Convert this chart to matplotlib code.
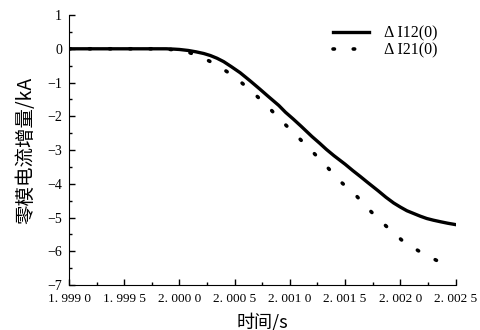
import matplotlib
matplotlib.use("Agg")
import matplotlib.pyplot as plt
from matplotlib.ticker import MultipleLocator, FixedLocator

# values
t_i12 = [1.9990, 1.9995, 1.99975, 1.99988, 1.99995, 2.0000, 2.00008, 2.00015,
         2.00022, 2.00028, 2.00034, 2.0004, 2.00047, 2.00055, 2.00064, 2.00073,
         2.0008, 2.0009, 2.00096, 2.00103, 2.0011, 2.0012, 2.00127, 2.00133,
         2.0014, 2.0015, 2.00157, 2.00164, 2.0017, 2.0018, 2.00187, 2.00194,
         2.002, 2.00206, 2.00212, 2.00218, 2.00224, 2.0023, 2.00237, 2.00243,
         2.0025]
i12 = [0.0, 0.0, 0.0, 0.0, -0.01, -0.02, -0.05, -0.09,
       -0.14, -0.20, -0.28, -0.38, -0.53, -0.71, -0.95, -1.20,
       -1.40, -1.68, -1.88, -2.08, -2.29, -2.60, -2.80, -2.98,
       -3.17, -3.42, -3.61, -3.79, -3.95, -4.21, -4.40, -4.57,
       -4.69, -4.80, -4.88, -4.96, -5.03, -5.08, -5.13, -5.17,
       -5.21]

t_i21 = [1.9990, 1.9995, 1.99975, 1.99988, 2.0000, 2.00008, 2.00017, 2.00025,
         2.00034, 2.0005, 2.00064, 2.00078, 2.00091, 2.00105, 2.00119, 2.00132,
         2.00145, 2.0016, 2.00173, 2.00187, 2.00202, 2.00219, 2.00237]
i21 = [0.0, 0.0, 0.0, -0.01, -0.04, -0.10, -0.21, -0.33,
       -0.48, -0.83, -1.22, -1.64, -2.09, -2.54, -3.00, -3.44,
       -3.91, -4.35, -4.81, -5.25, -5.69, -6.04, -6.34]

xticks = [1.9990, 1.9995, 2.0000, 2.0005, 2.0010, 2.0015, 2.0020, 2.0025]
serif = ["Liberation Serif", "DejaVu Serif"]
cjk = ["Noto Sans CJK SC", "DejaVu Sans"]


def fmt_tick(v):
    s = f"{v:.4f}"
    return s[:2] + " " + s[2:5] + " " + s[5:]


fig = plt.figure(figsize=(4.81, 3.30), dpi=100)
ax = fig.add_axes([0.1435, 0.1364, 0.8035, 0.818])

ax.plot(t_i12, i12, color="black", lw=2.4, label="Δ I12(0)")
ax.plot(t_i21, i21, color="black", lw=2.6, linestyle=(0, (0.4, 5.2)),
        dash_capstyle="round", label="Δ I21(0)")

ax.set_xlim(1.9990, 2.0025)
ax.set_ylim(-7, 1)
ax.xaxis.set_major_locator(FixedLocator(xticks))
ax.set_xticklabels([fmt_tick(v) for v in xticks], family=serif, fontsize=9.5)
ax.xaxis.set_minor_locator(MultipleLocator(0.00025))
ax.yaxis.set_major_locator(MultipleLocator(1))
ax.yaxis.set_minor_locator(MultipleLocator(0.5))
for lab in ax.get_yticklabels():
    lab.set_family(serif)
    lab.set_fontsize(10)

ax.spines["top"].set_visible(False)
ax.spines["right"].set_visible(False)
ax.tick_params(which="both", direction="in", width=1)
ax.tick_params(which="major", length=4)
ax.tick_params(axis="x", which="major", pad=6)
ax.tick_params(axis="y", which="major", pad=5)
ax.tick_params(which="minor", length=2.5)

ax.set_xlabel("时间/s", family=cjk, fontsize=13, labelpad=5)
ax.set_ylabel("零模电流增量/kA", family=cjk, fontsize=14, labelpad=8)

leg = ax.legend(loc="upper right", bbox_to_anchor=(0.99, 1.015), frameon=False,
                prop={"family": serif, "size": 11.5}, handlelength=2.3,
                labelspacing=0.05, handletextpad=0.9)

fig.savefig("out.png", dpi=100)
